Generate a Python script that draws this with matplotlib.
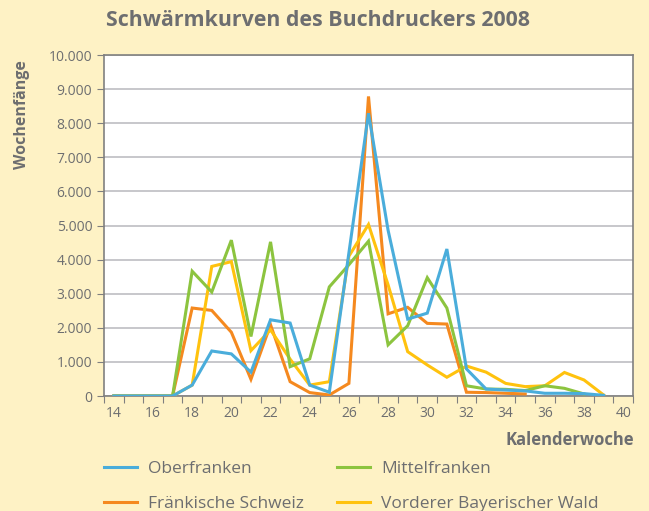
import numpy as np
import matplotlib.pyplot as plt
from matplotlib.lines import Line2D
from matplotlib.ticker import FuncFormatter

plt.rcParams['font.family'] = ['Open Sans', 'DejaVu Sans']

# Kalenderwochen 14..40 (Kategorieachse)
weeks = list(range(14, 41))

# Wochenfaenge je Region, None = kein Wert
oberfranken = [0, 0, 0, 0, 320, 1320, 1235, 700, 2235, 2140, 320, 110, 4200, 8290,
               4860, 2255, 2430, 4310, 795, 205, 175, 150, 80, 80, 70, 20, None]
mittelfranken = [0, 0, 0, 0, 3660, 3050, 4570, 1745, 4520, 860, 1090, 3200, 3850, 4540,
                 1500, 2060, 3470, 2580, 300, 205, 195, 160, 300, 225, 60, None, None]
fraenk_schweiz = [0, 0, 0, 0, 2580, 2510, 1870, 490, 2090, 420, 100, 30, 370, 8785,
                  2410, 2600, 2130, 2110, 110, 100, 80, 60, None, None, None, None, None]
bay_wald = [0, 0, 0, 0, 320, 3800, 3940, 1330, 1940, 1080, 320, 420, 4100, 5030,
            3260, 1300, 910, 550, 880, 700, 370, 275, 300, 690, 470, 30, None]

bg = '#FEF2C5'
txt = '#6D6E70'
c_blue = '#4AADDB'
c_green = '#8CC43F'
c_orange = '#F5891F'
c_yellow = '#FFC20E'

fig = plt.figure(figsize=(6.49, 5.11), dpi=100, facecolor=bg)
ax = fig.add_axes([104/649, 1 - 396/511, (633-104)/649, (396-55)/511])
ax.set_facecolor('white')

x = np.arange(len(weeks))
def arr(v):
    return np.array([np.nan if a is None else a for a in v], dtype=float)

series = [
    ('Fränkische Schweiz', fraenk_schweiz, c_orange),
    ('Vorderer Bayerischer Wald', bay_wald, c_yellow),
    ('Mittelfranken', mittelfranken, c_green),
    ('Oberfranken', oberfranken, c_blue),
]
for name, vals, col in series:
    ax.plot(x, arr(vals), color=col, lw=2.2, solid_joinstyle='miter', zorder=3)

ax.set_xlim(-0.5, len(weeks) - 0.5)
ax.set_ylim(0, 10000)
ax.set_yticks(np.arange(0, 10001, 1000))
ax.yaxis.set_major_formatter(FuncFormatter(lambda v, p: f'{int(v):,}'.replace(',', '.')))
ax.grid(axis='y', color='#BEBEC2', lw=1.2, zorder=1)
ax.set_axisbelow(True)

# Ticks zwischen den Kategorien, Beschriftung jede zweite Woche
ax.set_xticks(np.arange(-0.5, len(weeks), 1))
ax.set_xticklabels([])
ax.set_xticks(x[::2], minor=True)
ax.set_xticklabels([str(w) for w in weeks[::2]], minor=True)
ax.tick_params(axis='x', which='minor', length=0, pad=7)
ax.tick_params(axis='x', which='major', length=5, color='#7F7F7F', direction='out')
ax.tick_params(axis='y', length=5, color='#7F7F7F', direction='out')
ax.tick_params(axis='both', which='both', labelsize=10, labelcolor=txt)

for s in ax.spines.values():
    s.set_color('#808080')
    s.set_linewidth(1.2)

fig.text(318/649, 1 - 20/511, 'Schwärmkurven des Buchdruckers 2008', ha='center', va='center',
         fontsize=15.4, fontweight='bold', color=txt)
fig.text(22/649, 1 - 115/511, 'Wochenfänge', rotation=90, ha='center', va='center',
         fontsize=11.5, fontweight='bold', color=txt)
fig.text(634/649, 1 - 440/511, 'Kalenderwoche', ha='right', va='center',
         fontsize=12, fontweight='bold', color=txt)

handles = [Line2D([], [], color=c_blue, lw=2.2), Line2D([], [], color=c_orange, lw=2.2),
           Line2D([], [], color=c_green, lw=2.2), Line2D([], [], color=c_yellow, lw=2.2)]
labels = ['Oberfranken', 'Fränkische Schweiz', 'Mittelfranken', 'Vorderer Bayerischer Wald']
fig.legend(handles, labels, ncol=2, loc='upper left', bbox_to_anchor=(104/649, 1 - 461/511),
           frameon=False, fontsize=12.5, labelcolor=txt, handlelength=1.9, handletextpad=0.63,
           columnspacing=1.9, labelspacing=1.1, borderpad=0, borderaxespad=0)

fig.savefig('out.png', dpi=100, facecolor=bg)
